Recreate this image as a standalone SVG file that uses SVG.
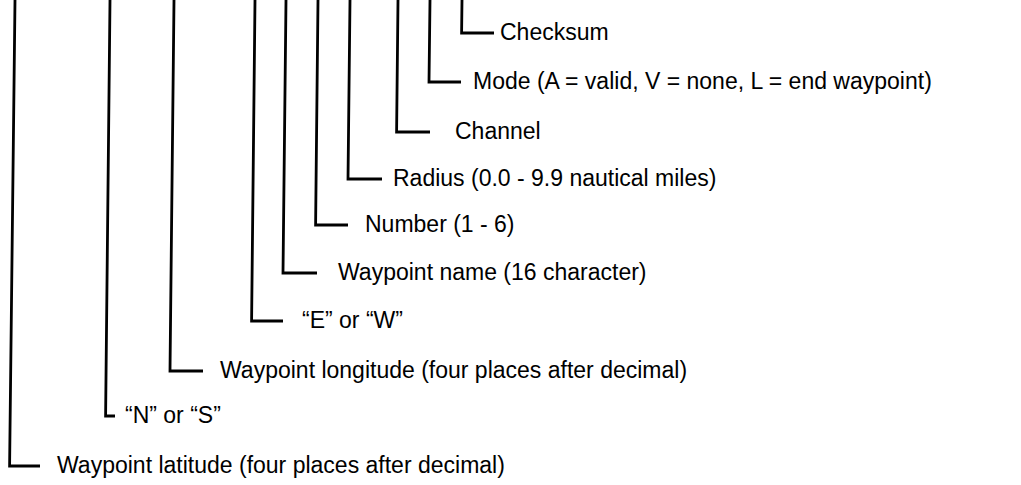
<svg xmlns="http://www.w3.org/2000/svg" width="1021" height="485" viewBox="0 0 1021 485">
<style>
.ln{fill:none;stroke:#000;stroke-width:2.8;stroke-linejoin:miter;stroke-linecap:butt}
.t{font-family:"Liberation Sans",Arial,sans-serif;font-size:23px;fill:#000}
</style>
<rect width="1021" height="485" fill="#fff"/>
<g id="connectors">
<path class="ln" d="M462,0 L461.6,33 H494"/>
<path class="ln" d="M430,0 L429,82 H461"/>
<path class="ln" d="M398,0 L396.6,132 H430"/>
<path class="ln" d="M350,0 L348,179 H382"/>
<path class="ln" d="M318,0 L315.6,225 H348"/>
<path class="ln" d="M286,0 L283,273 H317"/>
<path class="ln" d="M255,0 L251.6,321 H283"/>
<path class="ln" d="M174,0 L170,371 H203"/>
<path class="ln" d="M110,0 L105.6,416 H115"/>
<path class="ln" d="M15,0 L9.6,466 H40"/>
</g>
<g id="checksum"><text class="t" x="500" y="40">Checksum</text></g>
<g id="mode"><text class="t" x="473" y="89">Mode (A = valid, V = none, L = end waypoint)</text></g>
<g id="channel"><text class="t" x="455" y="139">Channel</text></g>
<g id="radius"><text class="t" x="393" y="186">Radius (0.0 - 9.9 nautical miles)</text></g>
<g id="number"><text class="t" x="365" y="232">Number (1 - 6)</text></g>
<g id="waypoint-name"><text class="t" x="338" y="280">Waypoint name (16 character)</text></g>
<g id="ew"><text class="t" x="302" y="328">“E” or “W”</text></g>
<g id="longitude"><text class="t" x="220" y="378">Waypoint longitude (four places after decimal)</text></g>
<g id="ns"><text class="t" x="125" y="423">“N” or “S”</text></g>
<g id="latitude"><text class="t" x="57" y="473">Waypoint latitude (four places after decimal)</text></g>
</svg>
